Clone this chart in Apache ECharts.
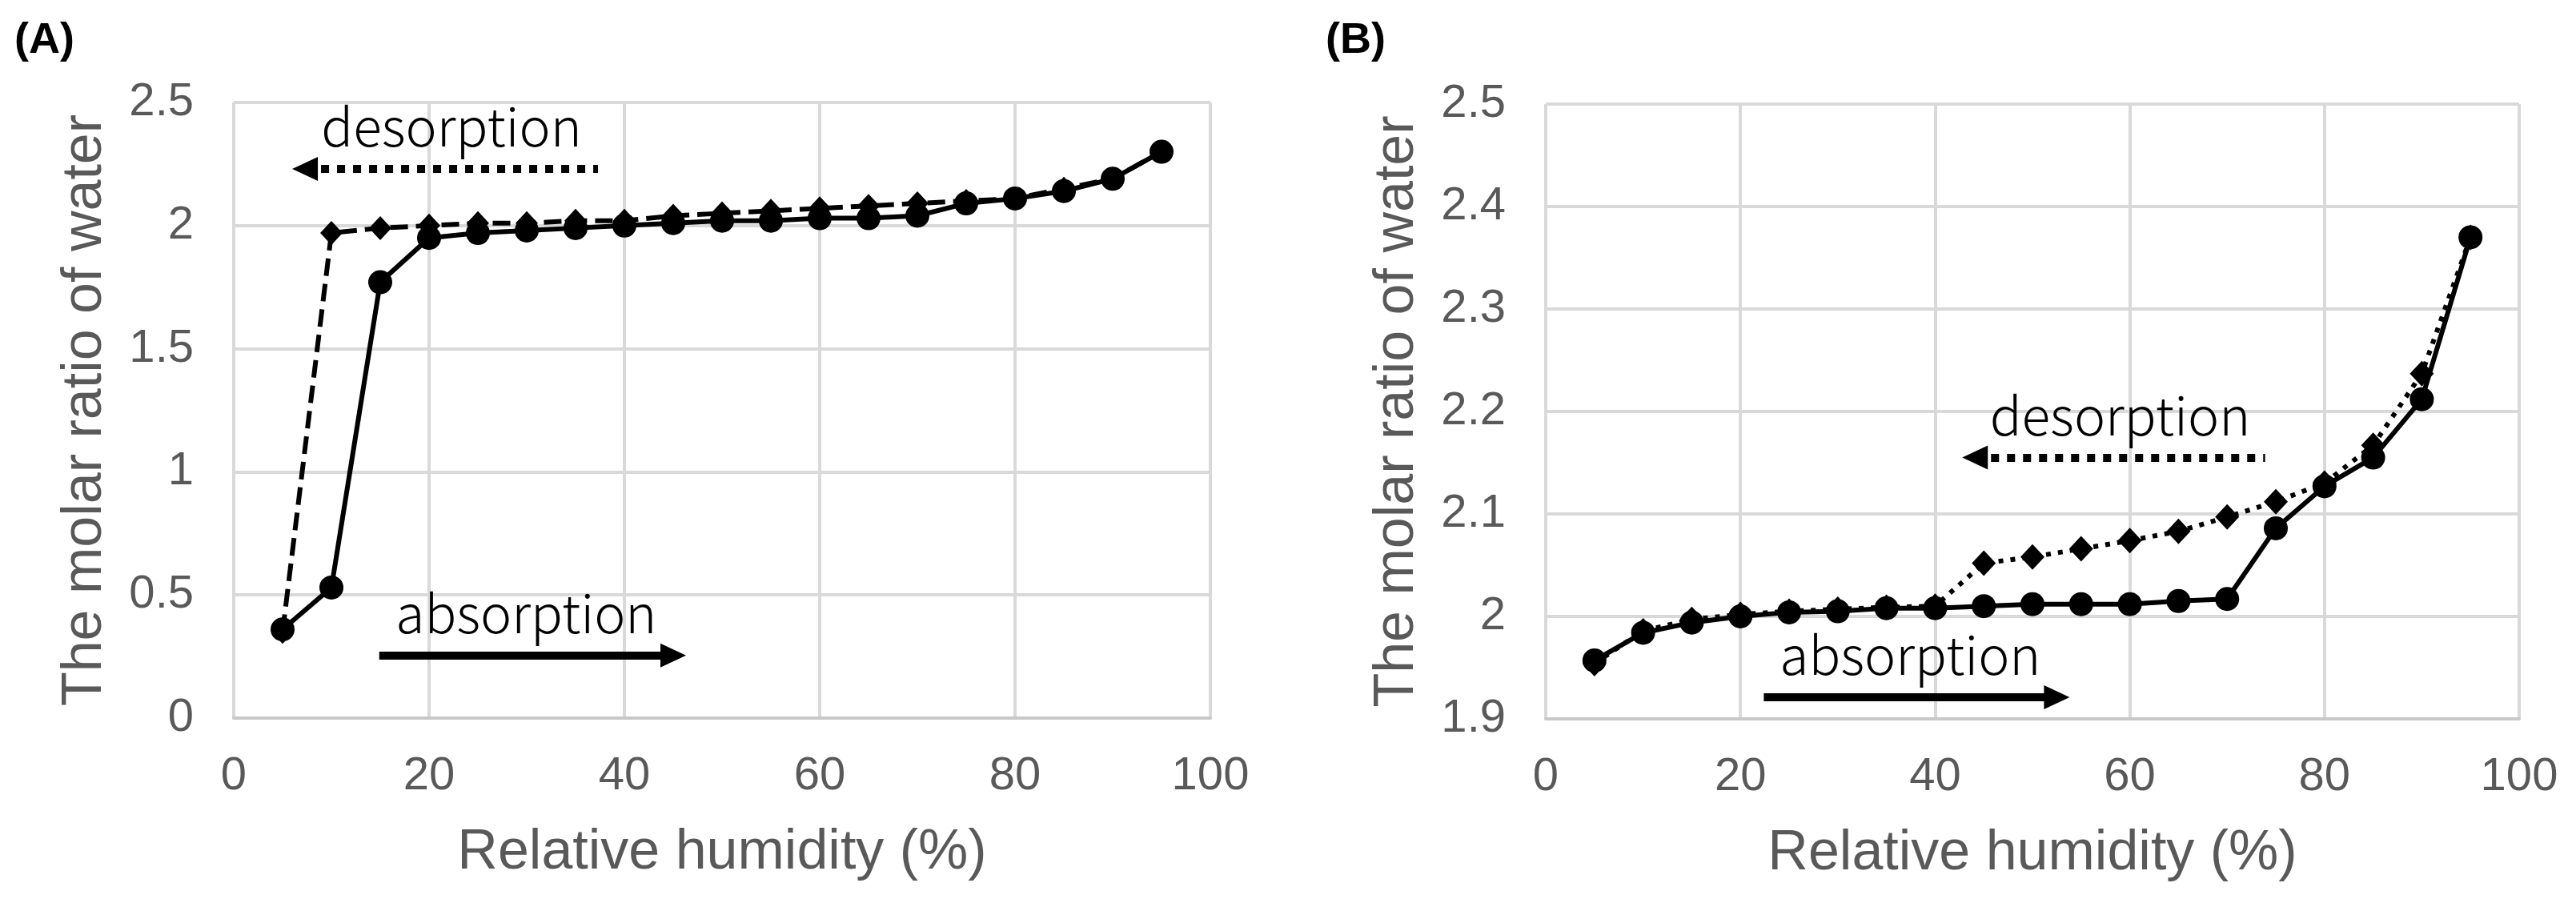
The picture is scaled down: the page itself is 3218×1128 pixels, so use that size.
<!DOCTYPE html>
<html>
<head>
<meta charset="utf-8">
<script src="https://cdn.jsdelivr.net/npm/echarts@6/dist/echarts.min.js"></script>
<style>
html,body{margin:0;padding:0;background:#fff;}
#chart{width:3218px;height:1128px;}
</style>
</head>
<body>
<div id="chart"></div>
<script>
// Relative humidity (%) of each measurement
const rh = [5,10,15,20,25,30,35,40,45,50,55,60,65,70,75,80,85,90,95];
// Panel (A)
const absorptionA = [0.36,0.53,1.77,1.95,1.97,1.98,1.99,2.00,2.01,2.02,2.02,2.03,2.03,2.04,2.09,2.11,2.14,2.19,2.30];
const desorptionA = [0.35,1.97,1.99,2.00,2.01,2.01,2.02,2.02,2.04,2.05,2.06,2.07,2.08,2.09,2.10,2.11,2.15,2.19,2.30];
// Panel (B)
const absorptionB = [1.957,1.984,1.994,2.000,2.004,2.005,2.008,2.008,2.010,2.012,2.012,2.012,2.015,2.017,2.086,2.127,2.155,2.212,2.370];
const desorptionB = [1.954,1.986,1.997,2.002,2.005,2.007,2.009,2.010,2.052,2.058,2.066,2.074,2.083,2.097,2.112,2.130,2.167,2.237,2.370];
// Axis ranges
const xRange = {min:0, max:100, interval:20};
const yRangeA = {min:0, max:2.5, interval:0.5};
const yRangeB = {min:1.9, max:2.5, interval:0.1};
// Annotation arrows in data units: [xStart, xEnd, y]
const arrowDesA = [7.3, 37.3, 2.23];
const arrowAbsA = [14.9, 45.0, 0.254];
const arrowDesB = [44.1, 73.9, 2.155];
const arrowAbsB = [22.4, 52.5, 1.921];

const FONT = '"Liberation Sans", Arial, sans-serif';
const ANNO_FONT = '"Noto Sans CJK JP", "Noto Sans", sans-serif';
const GRAY = '#595959';
const GRID = '#d9d9d9';

const pairs = (ys) => rh.map((x,i)=>[x, ys[i]]);

function xAxis(gi){
  return {
    type:'value', gridIndex:gi, min:xRange.min, max:xRange.max, interval:xRange.interval,
    name:'Relative humidity (%)', nameLocation:'middle', nameGap:134,
    nameTextStyle:{fontFamily:FONT, fontSize:70, color:GRAY},
    axisLine:{show:true, lineStyle:{color:'#c8c8c8', width:4}},
    axisTick:{show:false},
    axisLabel:{fontFamily:FONT, fontSize:58, color:GRAY, margin:44},
    splitLine:{show:true, lineStyle:{color:GRID, width:4}}
  };
}
function yAxis(gi, r){
  return {
    type:'value', gridIndex:gi, min:r.min, max:r.max, interval:r.interval,
    name:'The molar ratio of water', nameLocation:'middle', nameGap:150, nameRotate:90,
    nameTextStyle:{fontFamily:FONT, fontSize:70, color:GRAY},
    axisLine:{show:false}, axisTick:{show:false},
    axisLabel:{fontFamily:FONT, fontSize:58, color:GRAY, margin:50},
    splitLine:{show:true, lineStyle:{color:GRID, width:4}}
  };
}
function arrow(a, text, dotted){
  return {
    silent:true, symbol: dotted ? ['triangle','none'] : ['none','triangle'], symbolSize:[30,32],
    lineStyle:{color:'#000', width:10, type: dotted ? [10,10] : 'solid'},
    label:{show:true, formatter:text, position:'insideMiddleTop', distance:20,
           color:'#000', fontFamily:ANNO_FONT, fontSize:66, fontWeight:300},
    emphasis:{disabled:true},
    data:[[{coord:[a[0],a[2]]},{coord:[a[1],a[2]]}]]
  };
}

const chart = echarts.init(document.getElementById('chart'), null, {renderer:'canvas'});
chart.setOption({
  animation:false,
  backgroundColor:'#fff',
  grid:[
    {left:292, top:128, width:1220, height:769},
    {left:1931, top:130, width:1216, height:768}
  ],
  xAxis:[xAxis(0), xAxis(1)],
  yAxis:[yAxis(0, yRangeA), yAxis(1, yRangeB)],
  graphic:[
    {type:'text', left:18, top:24, style:{text:'(A)', font:'bold 54px "Liberation Sans", Arial, sans-serif', fill:'#000'}},
    {type:'text', left:1656, top:24, style:{text:'(B)', font:'bold 54px "Liberation Sans", Arial, sans-serif', fill:'#000'}}
  ],
  series:[
    {type:'line', name:'desorption A', xAxisIndex:0, yAxisIndex:0, data:pairs(desorptionA),
     symbol:'diamond', symbolSize:[28,30], itemStyle:{color:'#000'},
     lineStyle:{color:'#000', width:6, type:[22,10]}, markLine:arrow(arrowDesA,'desorption',true)},
    {type:'line', name:'absorption A', xAxisIndex:0, yAxisIndex:0, data:pairs(absorptionA),
     symbol:'circle', symbolSize:30, itemStyle:{color:'#000'},
     lineStyle:{color:'#000', width:6}, markLine:arrow(arrowAbsA,'absorption',false)},
    {type:'line', name:'desorption B', xAxisIndex:1, yAxisIndex:1, data:pairs(desorptionB),
     symbol:'diamond', symbolSize:[30,32], itemStyle:{color:'#000'},
     lineStyle:{color:'#000', width:6, type:[6,9]}, markLine:arrow(arrowDesB,'desorption',true)},
    {type:'line', name:'absorption B', xAxisIndex:1, yAxisIndex:1, data:pairs(absorptionB),
     symbol:'circle', symbolSize:30, itemStyle:{color:'#000'},
     lineStyle:{color:'#000', width:6}, markLine:arrow(arrowAbsB,'absorption',false)}
  ]
});
</script>
</body>
</html>
